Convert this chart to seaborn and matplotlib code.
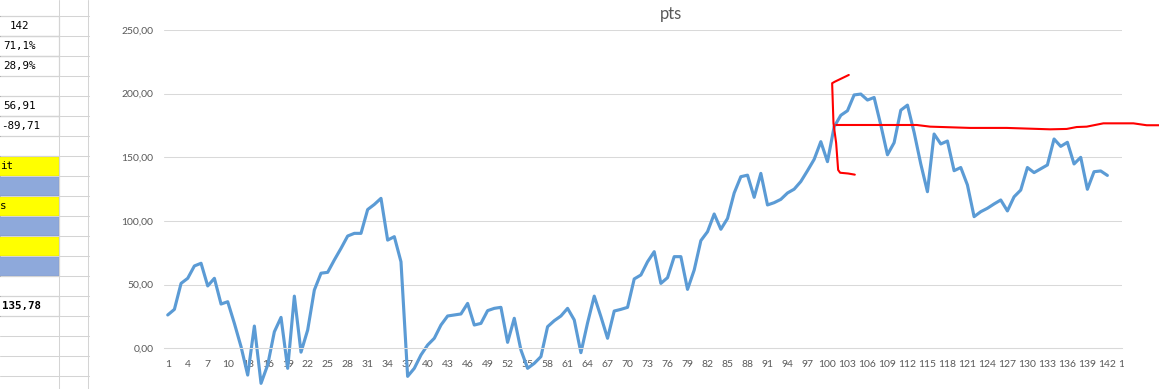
import numpy as np
import pandas as pd
import matplotlib.pyplot as plt
import matplotlib.patches as mpatches
import matplotlib.lines as mlines
import seaborn as sns

# values of the "pts" series, one per row (142 rows)
pts = [26.2, 30.6, 51.0, 55.0, 64.7, 66.8, 49.0, 55.0, 34.8, 36.6,
       19.6, 1.3, -21.0, 17.5, -27.5, -13.0, 13.0, 24.3, -15.7, 41.0,
       -3.0, 14.4, 45.8, 59.0, 59.7, 69.4, 78.5, 88.2, 90.3, 90.3,
       109.0, 113.0, 117.8, 85.0, 87.7, 68.0, -22.0, -15.7, -5.2, 2.6,
       7.9, 18.3, 25.4, 26.2, 27.0, 35.3, 18.3, 19.6, 29.6, 31.4,
       32.2, 4.7, 23.6, -1.3, -15.7, -11.8, -6.5, 17.0, 21.7, 25.4,
       31.4, 22.3, -3.4, 20.0, 41.0, 24.9, 7.9, 29.3, 30.6, 32.2,
       54.5, 57.6, 68.0, 75.9, 51.0, 55.5, 72.0, 72.0, 46.3, 61.5,
       84.6, 91.6, 105.5, 93.5, 102.0, 122.0, 134.8, 136.0, 118.6, 137.4,
       112.6, 114.4, 117.0, 122.0, 125.0, 131.0, 139.5, 148.4, 162.3, 146.6,
       174.0, 183.0, 186.6, 199.0, 199.7, 195.0, 197.0, 175.4, 152.0, 161.5,
       187.0, 191.0, 169.6, 144.8, 123.0, 168.3, 160.5, 162.8, 139.5, 142.0,
       128.3, 103.4, 107.3, 110.0, 113.4, 116.5, 107.9, 119.0, 124.3, 142.0,
       138.0, 141.0, 144.0, 164.4, 158.6, 161.8, 144.8, 150.0, 124.9, 138.7,
       139.3, 135.8]
rows = list(range(1, len(pts) + 1))

y_ticks = [0, 50, 100, 150, 200, 250]
x_ticks = list(range(1, 143, 3))

# hand-drawn red marks over the screenshot (category / value units)
red_bracket_x = [103.2, 101.1, 100.7, 100.9, 101.3, 101.6, 101.9, 103.1, 104.1]
red_bracket_y = [214.7, 209.4, 208.2, 176.7, 161.3, 140.1, 137.9, 137.3, 136.4]
red_line_x = [101.3, 113.4, 115.4, 121.4, 126.9, 133.4, 135.9, 137.4, 138.9,
              141.4, 145.9, 147.9, 149.8]
red_line_y = [175.4, 175.4, 174.1, 173.1, 173.1, 172.0, 172.3, 173.8, 174.1,
              176.7, 176.7, 175.2, 175.2]

# spreadsheet cells visible at the left edge
cell_texts = ["142", "71,1%", "28,9%", "", "56,91", "-89,71"]
total_text = "135,78"

W, H = 1159, 389
sns.set_style("white")
plt.rcParams["font.family"] = ["Lato", "DejaVu Sans"]

fig = plt.figure(figsize=(W / 100, H / 100), dpi=100)


def fx(px):
    return px / W


def fy(py):
    return 1 - py / H


# ---- sheet background on the left ----
grid_c = "#d4d4d4"
for k in range(20):
    yy = 15.7 + 20 * k
    fig.add_artist(mlines.Line2D([0, fx(89)], [fy(yy), fy(yy)], color=grid_c, lw=0.75))
for xx in [59.3, 88.3]:
    fig.add_artist(mlines.Line2D([fx(xx), fx(xx)], [0, 1], color=grid_c, lw=0.75))

colors = ["#ffff00", "#8ea9db"] * 3
for i, c in enumerate(colors):
    y0 = 155.7 + 20 * i
    fig.add_artist(mpatches.Rectangle((fx(-10), fy(y0 + 20)), fx(69.3), 20 / H,
                                      facecolor=c, edgecolor="black", lw=0.75))

for y0, n in [(15.7, 3), (95.7, 2), (295.7, 1)]:
    for j in range(n):
        fig.add_artist(mpatches.Rectangle((fx(-10), fy(y0 + 20 * (j + 1))), fx(69.3), 20 / H,
                                          facecolor="none", edgecolor="black", lw=0.75))

mono = dict(family="DejaVu Sans Mono", fontsize=7.8, va="center", color="black")
cell_right = [28.7, 36, 36, 0, 36, 40]
for i, t in enumerate(cell_texts):
    if t:
        fig.text(fx(cell_right[i]), fy(25.7 + 20 * i), t, ha="right", **mono)
fig.text(fx(0), fy(165.7), "it", ha="left", **mono)
fig.text(fx(0), fy(205.7), "s", ha="left", **mono)
fig.text(fx(41), fy(305.7), total_text, ha="right", fontweight="bold", **mono)

# ---- chart ----
ax_left, ax_right = fx(164.4), fx(1121.7)
ax_top, ax_bot = fy(30), fy(412)
ax = fig.add_axes([ax_left, ax_bot, ax_right - ax_left, ax_top - ax_bot])

df = pd.DataFrame({"row": rows, "pts": pts})
sns.lineplot(data=df, x="row", y="pts", color="#5b9bd5", linewidth=2.25, ax=ax)

ax.set_xlim(0.5, 144.15)
ax.set_ylim(-50, 250)
ax.set_yticks(y_ticks)
ax.set_yticklabels([f"{v:.2f}".replace(".", ",") for v in y_ticks])
ax.set_xticks(x_ticks)
ax.set_xticklabels([str(v) for v in x_ticks])
ax.grid(axis="y", color="#d9d9d9", lw=0.75)
ax.grid(axis="x", visible=False)
for s in ["top", "right", "left"]:
    ax.spines[s].set_visible(False)
ax.spines["bottom"].set_position(("data", 0))
ax.spines["bottom"].set_color("#d9d9d9")
ax.spines["bottom"].set_linewidth(0.75)
ax.tick_params(axis="both", length=0, labelsize=7.5, labelcolor="#595959")
ax.tick_params(axis="x", pad=8.5)
ax.tick_params(axis="y", pad=8)
ax.set_xlabel("")
ax.set_ylabel("")

# partially visible last category label
clip = mpatches.Rectangle((0, 0), fx(1124), 1, transform=fig.transFigure)
t = ax.annotate("145", xy=(145, 0), xytext=(0, -8.5), textcoords="offset points",
                ha="center", va="top", fontsize=7.5, color="#595959",
                annotation_clip=False)
t.set_clip_path(clip)

fig.text(fx(670.7), fy(14), "pts", ha="center", va="center", fontsize=12, color="#595959")

# red marker lines drawn over the screenshot
ax.plot(red_bracket_x, red_bracket_y, color="#ff0000", lw=1.5, clip_on=False)
ax.plot(red_line_x, red_line_y, color="#ff0000", lw=1.5, clip_on=False)

fig.savefig("out.png", dpi=100)
